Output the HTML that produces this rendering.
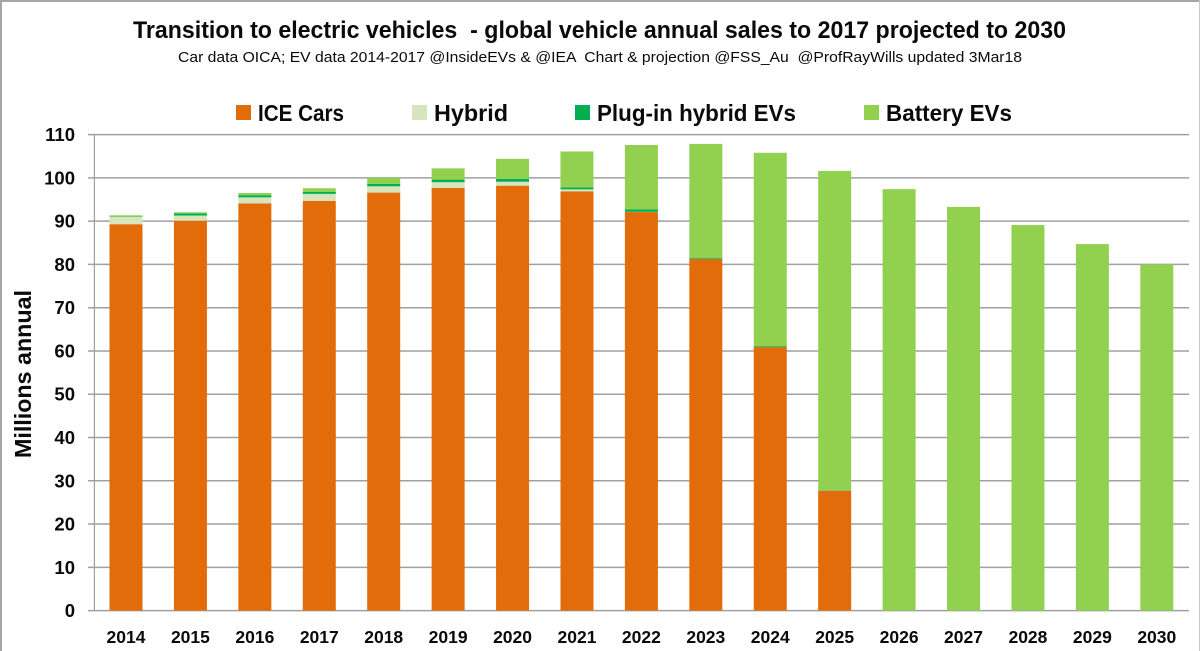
<!DOCTYPE html>
<html lang="en">
<head>
<meta charset="utf-8">
<title>Transition to electric vehicles</title>
<style>
html,body{margin:0;padding:0;background:#fff;width:1200px;height:651px;overflow:hidden}
svg{display:block;filter:blur(0.35px)}
text{font-family:"Liberation Sans",sans-serif;fill:#0a0a0a}
</style>
</head>
<body>
<svg id="chart" xmlns="http://www.w3.org/2000/svg" width="1200" height="651" viewBox="0 0 1200 651">
  <rect x="0" y="0" width="1200" height="651" fill="#ffffff"/>
  <rect x="0" y="0" width="1200" height="2" fill="#a6a6a6"/>
  <rect x="0" y="0" width="2" height="651" fill="#a6a6a6"/>
  <rect x="1199" y="0" width="1" height="651" fill="#c8c8c8"/>

  <text x="133" y="38" font-size="24" font-weight="bold" textLength="933" lengthAdjust="spacingAndGlyphs" xml:space="preserve">Transition to electric vehicles  - global vehicle annual sales to 2017 projected to 2030</text>
  <text x="178" y="62" font-size="14.5" textLength="844" lengthAdjust="spacingAndGlyphs" xml:space="preserve">Car data OICA; EV data 2014-2017 @InsideEVs &amp; @IEA  Chart &amp; projection @FSS_Au  @ProfRayWills updated 3Mar18</text>

  <g>
    <rect x="236" y="105" width="15" height="15" fill="#e36c0a"/>
    <text x="258" y="121" font-size="23" font-weight="bold" textLength="86" lengthAdjust="spacingAndGlyphs">ICE Cars</text>
    <rect x="412" y="105" width="15" height="15" fill="#d8e4bc"/>
    <text x="434" y="121" font-size="23" font-weight="bold" textLength="74" lengthAdjust="spacingAndGlyphs">Hybrid</text>
    <rect x="575" y="105" width="15" height="15" fill="#00b050"/>
    <text x="597" y="121" font-size="23" font-weight="bold" textLength="199" lengthAdjust="spacingAndGlyphs">Plug-in hybrid EVs</text>
    <rect x="864" y="105" width="15" height="15" fill="#92d050"/>
    <text x="886" y="121" font-size="23" font-weight="bold" textLength="126" lengthAdjust="spacingAndGlyphs">Battery EVs</text>
  </g>

  <text transform="translate(31,458) rotate(-90)" font-size="23" font-weight="bold" textLength="168" lengthAdjust="spacingAndGlyphs">Millions annual</text>

  <g id="grid"></g>
  <g id="bars"></g>
  <g id="yticks"></g>
  <g id="xticks"></g>
</svg>
<script>
var categories = ['2014','2015','2016','2017','2018','2019','2020','2021','2022','2023','2024','2025','2026','2027','2028','2029','2030'];
var iceCars  = [89.3,90.1,94.1,94.7,96.6,97.7,98.2,96.9,92.1,81.25,60.9,27.7,0,0,0,0,0];
var hybrid   = [1.7,1.2,1.4,1.6,1.45,1.3,0.9,0.45,0.05,0.05,0,0,0,0,0,0,0];
var plugIn   = [0.1,0.5,0.5,0.5,0.55,0.6,0.65,0.45,0.6,0.25,0.2,0.1,0,0,0,0,0];
var battery  = [0.25,0.25,0.5,0.8,1.45,2.6,4.65,8.3,14.85,26.3,44.7,73.8,97.4,93.3,89.1,84.7,80];
var yTickValues = [0,10,20,30,40,50,60,70,80,90,100,110];

var NS = 'http://www.w3.org/2000/svg';
var plotLeft = 93.8, plotRight = 1189, yZero = 610.6, yTop = 134.6, yMax = 110, barWidth = 33;
var seriesList = [
  {key:'ice-cars', values:iceCars, color:'#e36c0a'},
  {key:'hybrid', values:hybrid, color:'#d8e4bc'},
  {key:'plug-in-hybrid', values:plugIn, color:'#00b050'},
  {key:'battery', values:battery, color:'#92d050'}
];
function yScale(v){ return yZero - (v / yMax) * (yZero - yTop); }
function xCenter(i){ return plotLeft + (i + 0.5) * (plotRight - plotLeft) / categories.length; }
function make(tag, attrs, parent){
  var el = document.createElementNS(NS, tag);
  for (var k in attrs) el.setAttribute(k, attrs[k]);
  parent.appendChild(el);
  return el;
}
var gridG = document.getElementById('grid');
var barsG = document.getElementById('bars');
var yG = document.getElementById('yticks');
var xG = document.getElementById('xticks');

yTickValues.forEach(function(v){
  var y = yScale(v);
  var line = make('line', {x1:88, x2:plotRight, y1:y, y2:y, stroke:'#a0a0a0', 'stroke-width':1.5}, gridG);
  
  
  var label = make('text', {x:75, y:y + 6.5, 'text-anchor':'end', 'font-size':18.5, 'font-weight':'bold'}, yG);
  label.textContent = v;
  
  
});
var yAxis = make('line', {x1:plotLeft + 0.6, x2:plotLeft + 0.6, y1:yTop, y2:yZero, stroke:'#a0a0a0', 'stroke-width':1.2}, gridG);



categories.forEach(function(cat, i){
  var cx = xCenter(i);
  var cum = 0;
  seriesList.forEach(function(s){
    var v = s.values[i];
    if (v <= 0) return;
    var top = yScale(cum + v);
    var bottom = yScale(cum);
    var r = make('rect', {x:cx - barWidth / 2, y:top, width:barWidth, height:bottom - top, fill:s.color}, barsG);
    
    
    cum += v;
  });
  var label = make('text', {x:cx, y:643, 'text-anchor':'middle', 'font-size':17.5, 'font-weight':'bold'}, xG);
  label.textContent = cat;
  
  
});
</script>
</body>
</html>
